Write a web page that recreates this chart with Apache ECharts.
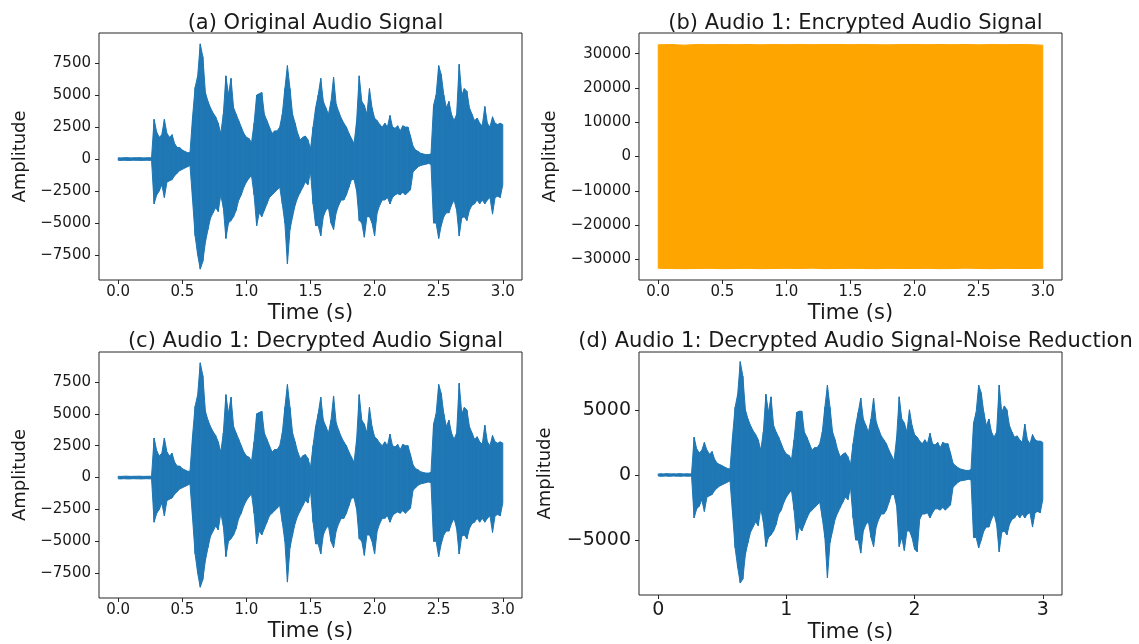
<!DOCTYPE html>
<html>
<head>
<meta charset="utf-8">
<script src="https://cdn.jsdelivr.net/npm/echarts@6/dist/echarts.min.js"></script>
<style>
  html, body { margin: 0; padding: 0; background: #fff; }
  #chart { width: 1139px; height: 644px; }
</style>
</head>
<body>
<div id="chart"></div>
<script>
// ---- Data ----
// Audio envelopes sampled every 0.02 s (t = 0.00 ... 3.00), upper and lower peaks.
const SAMPLE_STEP = 0.02;
const originalUpper = [
  100,90,100,110,100,90,100,100,110,100,90,100,100,100,
  3100,2100,1700,1900,3100,2000,1700,1900,1200,900,900,700,600,500,500,
  3300,5600,6500,9000,8000,5200,4500,4000,3600,3300,2800,2000,
  3500,6500,5000,6300,4000,3500,3000,2500,2000,1700,1600,1300,
  2800,5000,5100,5200,3500,3000,2500,2000,2200,2200,2500,3500,
  5500,7300,5500,3500,2800,2000,1500,1700,1800,1500,800,2500,
  4000,5000,6300,4500,4000,3500,4500,6400,4300,3700,3200,2800,
  2500,2000,1600,1200,3000,6500,4500,4200,3500,5500,4000,3200,
  3000,2700,2500,2800,2500,3400,2500,2400,2600,2200,2600,2500,
  2500,1800,1000,700,600,450,400,350,350,400,4200,5000,
  7300,6600,5000,4000,4500,3500,3000,3500,7400,5000,5500,5300,
  4000,3500,3000,3200,2800,2600,4100,2800,2500,3300,2800,2700,2800,2700
];
const originalLower = [
  -100,-110,-90,-100,-110,-100,-90,-100,-100,-110,-100,-90,-100,-100,
  -3500,-2800,-2500,-2000,-3000,-1800,-1700,-1600,-1300,-1100,-900,-800,-700,-600,-500,
  -3200,-6000,-7500,-8600,-8000,-6500,-5500,-4600,-4200,-3800,-4100,-2800,
  -3800,-6200,-5000,-4800,-4500,-4000,-3200,-2800,-2200,-1800,-1500,-1300,
  -2800,-5200,-4200,-4500,-4000,-3500,-3000,-2800,-2600,-2400,-2200,-3500,
  -5000,-8200,-5500,-4500,-3600,-3000,-2600,-2200,-1800,-2000,-1000,-3500,
  -5200,-5200,-6000,-4500,-4000,-3800,-5000,-5500,-4200,-3600,-3200,-3200,
  -2800,-2200,-1600,-1600,-2500,-4800,-5000,-6100,-4500,-4500,-5000,-6000,
  -4200,-3600,-3200,-3200,-3000,-3500,-3000,-2800,-2700,-2800,-2600,-2800,
  -2600,-2400,-1000,-800,-600,-500,-450,-400,-350,-400,-5000,-5000,
  -6200,-5200,-4500,-4200,-4200,-3600,-3200,-4000,-6000,-4600,-4500,-4800,
  -4000,-3600,-3500,-3200,-3500,-3200,-3500,-3200,-3000,-4300,-3000,-2900,-3000,-2000
];
// Decrypted signal is identical to the original one in the picture.
const decryptedUpper = originalUpper;
const decryptedLower = originalLower;
const denoisedUpper = [
  80,90,80,100,90,80,90,80,100,90,80,90,80,90,
  2900,2000,1700,1900,2500,1900,1600,1800,1200,900,800,700,600,500,450,
  3000,5200,6200,8700,7600,5000,4300,3800,3400,3100,2700,1900,
  3300,6200,4800,6000,3800,3300,2900,2400,1900,1600,1500,1200,
  2700,4800,4900,4900,3300,2900,2400,1900,2100,2100,2400,3300,
  5200,6900,5200,3300,2700,1900,1400,1600,1700,1400,800,2400,
  3800,4800,5900,4300,3800,3300,4300,5900,4100,3500,3000,2700,
  2400,1900,1500,1100,2900,6000,4300,4000,3300,5000,3800,3100,
  2900,2600,2400,2700,2400,3200,2400,2300,2500,2100,2500,2400,
  2400,1700,900,700,550,450,400,350,350,400,4000,4800,
  6900,6300,4800,3800,4300,3300,2900,3300,6900,4800,5300,5000,
  3800,3300,2900,3000,2700,2500,3900,2700,2400,3100,2700,2600,2600,2500
];
const denoisedLower = [
  -80,-100,-90,-80,-100,-90,-80,-90,-90,-100,-80,-90,-90,-80,
  -3300,-2600,-2400,-1900,-2800,-1700,-1600,-1500,-1200,-1000,-850,-750,-650,-550,-450,
  -3000,-5600,-7100,-8300,-8000,-6100,-5200,-4400,-4000,-3600,-3900,-2600,
  -3600,-5500,-4800,-4600,-4300,-3800,-3000,-2700,-2100,-1700,-1400,-1200,
  -2700,-5000,-4000,-4300,-3800,-3300,-2900,-2700,-2500,-2300,-2100,-3300,
  -4800,-7900,-5200,-4300,-3400,-2900,-2500,-2100,-1700,-1900,-950,-3300,
  -5000,-5000,-6000,-4300,-3800,-3600,-4800,-5500,-4000,-3400,-3000,-3000,
  -2700,-2100,-1500,-1500,-2400,-5500,-4800,-5800,-4300,-4300,-4800,-5700,
  -5900,-3400,-3000,-3000,-2900,-3300,-2900,-2600,-2600,-2700,-2500,-2700,
  -2500,-2300,-950,-750,-550,-450,-420,-380,-330,-380,-4800,-4800,
  -5600,-5000,-4300,-4000,-4000,-3400,-3000,-3800,-5900,-4400,-4300,-4600,
  -3800,-3400,-3300,-3000,-3300,-3000,-3300,-3000,-2900,-4000,-2900,-2800,-2900,-1900
];
// Encrypted signal envelope sampled every 0.1 s (t = 0.0 ... 3.0)
const ENC_STEP = 0.1;
const encryptedUpper = [32600,32700,32500,32700,32650,32700,32650,32700,32600,32700,32650,32700,32650,32700,32700,32650,32700,32650,32600,32700,32700,32650,32700,32650,32700,32600,32700,32650,32700,32650,32500];
const encryptedLower = [-32650,-32700,-32750,-32700,-32650,-32750,-32700,-32650,-32750,-32700,-32650,-32700,-32600,-32750,-32700,-32650,-32700,-32750,-32650,-32700,-32700,-32650,-32750,-32700,-32600,-32700,-32750,-32650,-32700,-32700,-32650];

// Tick values
const timeTicksHalf = [0, 0.5, 1.0, 1.5, 2.0, 2.5, 3.0];
const timeTicksWhole = [0, 1, 2, 3];
const ampTicksA = [-7500, -5000, -2500, 0, 2500, 5000, 7500];
const ampTicksB = [-30000, -20000, -10000, 0, 10000, 20000, 30000];
const ampTicksD = [-5000, 0, 5000];

const titles = [
  '(a) Original Audio Signal',
  '(b) Audio 1: Encrypted Audio Signal',
  '(c) Audio 1: Decrypted Audio Signal',
  '(d) Audio 1: Decrypted Audio Signal-Noise Reduction'
];

// ---- Build chart ----
const FONT = "'DejaVu Sans', 'Liberation Sans', sans-serif";
const TXT = '#1a1a1a';
const AX = '#262626';
const BLUE = '#1f77b4';
const ORANGE = '#ffa500';
const minusFmt = v => String(v).replace('-', '\u2212');

const grids = [
  { left: 99, top: 33, width: 423, height: 247 },
  { left: 639, top: 33, width: 423, height: 247 },
  { left: 99, top: 352, width: 423, height: 246 },
  { left: 639, top: 352, width: 423, height: 246 }
].map(g => Object.assign({ show: true, borderColor: AX, borderWidth: 1, backgroundColor: 'transparent' }, g));

function xAxis(gi, ticks, dec, fs, margin, gap) {
  return {
    type: 'value', gridIndex: gi, min: -0.15, max: 3.15,
    axisLine: { show: false, onZero: false },
    splitLine: { show: false },
    axisTick: { show: true, length: 4, inside: false, customValues: ticks, lineStyle: { color: AX } },
    axisLabel: { customValues: ticks, formatter: v => v.toFixed(dec), color: TXT, fontFamily: FONT, fontSize: fs, margin: margin },
    name: 'Time (s)', nameLocation: 'middle', nameGap: gap,
    nameTextStyle: { color: TXT, fontFamily: FONT, fontSize: 21 }
  };
}
function yAxis(gi, min, max, ticks, fs, gap) {
  return {
    type: 'value', gridIndex: gi, min: min, max: max,
    axisLine: { show: false, onZero: false },
    splitLine: { show: false },
    axisTick: { show: true, length: 4, customValues: ticks, lineStyle: { color: AX } },
    axisLabel: { customValues: ticks, formatter: minusFmt, color: TXT, fontFamily: FONT, fontSize: fs, margin: 8 },
    name: 'Amplitude', nameLocation: 'middle', nameGap: gap,
    nameTextStyle: { color: TXT, fontFamily: FONT, fontSize: 18 }
  };
}

// Waveform drawn as the filled region between the upper and lower envelope,
// one quad per sampling interval, positioned through the axes (api.coord).
function band(gi, up, lo, step, color) {
  const rows = up.map((u, i) => [+(i * step).toFixed(4), u, lo[i]]);
  return {
    type: 'custom', xAxisIndex: gi, yAxisIndex: gi, silent: true, animation: false,
    data: rows,
    encode: { x: 0, y: [1, 2] },
    renderItem: function (params, api) {
      const k = params.dataIndexInside;
      if (k + 1 >= params.dataInsideLength) return null;
      const t0 = api.value(0, k), u0 = api.value(1, k), l0 = api.value(2, k);
      const t1 = api.value(0, k + 1), u1 = api.value(1, k + 1), l1 = api.value(2, k + 1);
      return {
        type: 'polygon',
        shape: { points: [api.coord([t0, u0]), api.coord([t1, u1]), api.coord([t1, l1]), api.coord([t0, l0])] },
        style: { fill: color, stroke: color, lineWidth: 1 }
      };
    }
  };
}

const colCenters = [310.5, 850.5];
const option = {
  animation: false,
  backgroundColor: '#fff',
  title: titles.map((t, i) => ({
    text: t, left: colCenters[i % 2], top: i < 2 ? 8 : 326, textAlign: 'center',
    textStyle: { color: TXT, fontFamily: FONT, fontSize: 21, fontWeight: 'normal' }
  })),
  grid: grids,
  xAxis: [
    xAxis(0, timeTicksHalf, 1, 15, 5, 23),
    xAxis(1, timeTicksHalf, 1, 15, 5, 23),
    xAxis(2, timeTicksHalf, 1, 15, 5, 23),
    xAxis(3, timeTicksWhole, 0, 19, 6, 27)
  ],
  yAxis: [
    yAxis(0, -9450, 9850, ampTicksA, 15, 70),
    yAxis(1, -36055, 36055, ampTicksB, 15, 80),
    yAxis(2, -9450, 9850, ampTicksA, 15, 70),
    yAxis(3, -9220, 9445, ampTicksD, 19, 85)
  ],
  series: [
    band(0, originalUpper, originalLower, SAMPLE_STEP, BLUE),
    band(1, encryptedUpper, encryptedLower, ENC_STEP, ORANGE),
    band(2, decryptedUpper, decryptedLower, SAMPLE_STEP, BLUE),
    band(3, denoisedUpper, denoisedLower, SAMPLE_STEP, BLUE)
  ]
};

const chart = echarts.init(document.getElementById('chart'), null, { renderer: 'canvas' });
chart.setOption(option);
</script>
</body>
</html>
